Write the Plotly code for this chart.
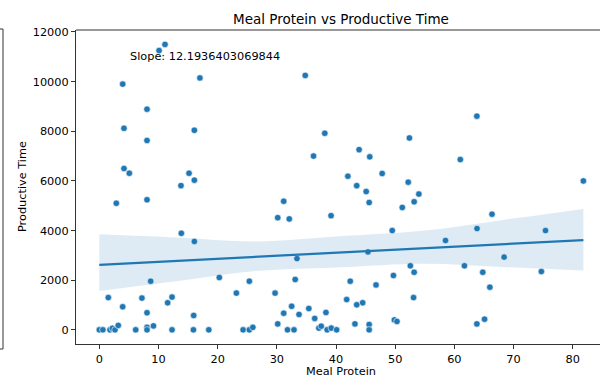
import plotly.graph_objects as go

# Meal protein (g) and productive time (s) per record
protein = [11.1, 10.1, 3.95, 17.0, 34.8, 8.06, 4.17, 16.06, 8.06, 4.17,
           5.07, 15.16, 16.06, 13.8, 38.1, 36.2, 43.9, 52.4, 45.7, 42.0,
           47.8, 43.5, 52.2, 63.8, 61.0, 81.8, 2.87, 8.06, 13.86, 16.06,
           8.68, 20.28, 25.35, 23.16, 1.52, 7.2, 12.29, 11.55, 3.95, 8.06,
           15.95, 0.0, 0.6, 1.8, 2.2, 2.65, 3.2, 6.15, 8.06, 8.06,
           9.15, 12.29, 15.9, 18.5, 24.3, 25.35, 25.95, 45.1, 45.6, 54.0,
           53.2, 51.2, 31.16, 30.15, 32.1, 39.16, 49.5, 33.4, 45.4, 33.1,
           42.4, 46.76, 49.7, 52.56, 53.2, 53.1, 29.7, 41.8, 44.5, 43.5,
           31.16, 32.5, 33.75, 35.4, 36.4, 38.3, 30.15, 37.1, 37.5, 38.5,
           39.2, 40.1, 31.8, 32.9, 43.2, 45.6, 45.6, 49.86, 50.3, 66.36,
           63.83, 75.4, 58.5, 68.4, 61.7, 64.8, 74.7, 66.0, 65.1, 63.8]
productive = [11500, 11250, 9900, 10150, 10250, 8890, 8120, 8040, 7630, 6500,
              6310, 6310, 6030, 5810, 7920, 7000, 7260, 7730, 6970, 6190,
              6300, 5810, 5950, 8610, 6860, 6000, 5100, 5240, 3890, 3560,
              1960, 2110, 1960, 1480, 1300, 1280, 1320, 1090, 930, 690,
              580, 0, 0, 0, 60, 0, 180, 0, 100, 0,
              160, 0, 0, 0, 0, 0, 100, 5570, 5130, 5470,
              5160, 4930, 5180, 4520, 4470, 4600, 4000, 2870, 3140, 2030,
              1960, 1810, 2190, 2580, 2320, 1300, 1480, 1220, 1090, 1010,
              670, 950, 620, 860, 460, 700, 240, 70, 150, 0,
              70, 0, 0, 0, 240, 215, 0, 400, 340, 4660,
              4080, 4000, 3600, 2930, 2580, 2320, 2350, 1720, 430, 240]

# Fitted regression line
slope = 12.1936403069844
intercept = 2620

# 95% confidence band of the fit
band_x = [0, 13, 26.5, 40, 55, 68, 81.8]
band_upper = [3850, 3720, 3560, 3760, 4000, 4420, 4870]
band_lower = [1570, 1960, 2370, 2510, 2660, 2530, 2390]

y_ticks = [0, 2000, 4000, 6000, 8000, 10000, 12000]
x_ticks = [0, 10, 20, 30, 40, 50, 60, 70, 80]

BLUE = "#1f77b4"
FONT = "DejaVu Sans"

fig = go.Figure()

fig.add_trace(go.Scatter(
    x=band_x, y=band_lower, mode="lines", line=dict(width=0, shape="spline"),
    hoverinfo="skip", showlegend=False))
fig.add_trace(go.Scatter(
    x=band_x, y=band_upper, mode="lines", line=dict(width=0, shape="spline"),
    fill="tonexty", fillcolor="rgba(31,119,180,0.15)",
    hoverinfo="skip", showlegend=False))

fig.add_trace(go.Scatter(
    x=protein, y=productive, mode="markers",
    marker=dict(size=6.5, color=BLUE, line=dict(color="white", width=0.6)),
    showlegend=False))

x_lo, x_hi = min(protein), max(protein)
fig.add_trace(go.Scatter(
    x=[x_lo, x_hi], y=[intercept + slope * x_lo, intercept + slope * x_hi],
    mode="lines", line=dict(color=BLUE, width=2.2), showlegend=False))

axis_common = dict(
    showgrid=False, zeroline=False, showline=True, linecolor="#333333",
    linewidth=1.1, ticks="outside", ticklen=4, tickwidth=1.1,
    tickcolor="#333333", tickfont=dict(family=FONT, size=11.3, color="black"),
)

fig.update_layout(
    width=600, height=380,
    margin=dict(l=76, r=0, t=30, b=36),
    paper_bgcolor="white", plot_bgcolor="white",
    font=dict(family=FONT, color="black"),
    title=dict(text="Meal Protein vs Productive Time",
               font=dict(family=FONT, size=13.5, color="black"),
               x=341 / 600, xref="container", xanchor="center",
               y=1 - 19 / 380, yref="container", yanchor="middle"),
    xaxis=dict(range=[-3.94, 84.61], tickvals=x_ticks, **axis_common),
    yaxis=dict(range=[-570, 12080], tickvals=y_ticks, tickformat="d",
               **axis_common),
    showlegend=False,
)

# Axis titles
fig.add_annotation(text="Meal Protein", xref="paper", yref="paper",
                   x=(341 - 76) / 524, y=-(371 - 344) / 314,
                   xanchor="center", yanchor="middle", showarrow=False,
                   font=dict(family=FONT, size=11.3, color="black"))
fig.add_annotation(text="Productive Time", xref="paper", yref="paper",
                   x=-(76 - 22) / 524, y=0.5, textangle=-90,
                   xanchor="center", yanchor="middle", showarrow=False,
                   font=dict(family=FONT, size=11.3, color="black"))

# Slope readout
fig.add_annotation(text=f"Slope: {slope}", xref="paper", yref="paper",
                   x=(128 - 76) / 524, y=(344 - 57) / 314,
                   xanchor="left", yanchor="middle", showarrow=False,
                   font=dict(family=FONT, size=11.3, color="black"))

# Top frame line
fig.add_shape(type="line", xref="paper", yref="paper", x0=0, x1=1, y0=1, y1=1,
              line=dict(color="#333333", width=1.1))

# Bracket at the left edge
bx = -(76 - 3) / 524
b_top = 1 + (30 - 29) / 314
b_bot = -(349 - 344) / 314
b_end = -(76 - 0) / 524
for seg in [(bx, b_top, bx, b_bot), (b_end, b_top, bx, b_top),
            (b_end, b_bot, bx, b_bot)]:
    fig.add_shape(type="line", xref="paper", yref="paper",
                  x0=seg[0], y0=seg[1], x1=seg[2], y1=seg[3],
                  line=dict(color="#444444", width=1.1))

fig.write_html("out.html")
